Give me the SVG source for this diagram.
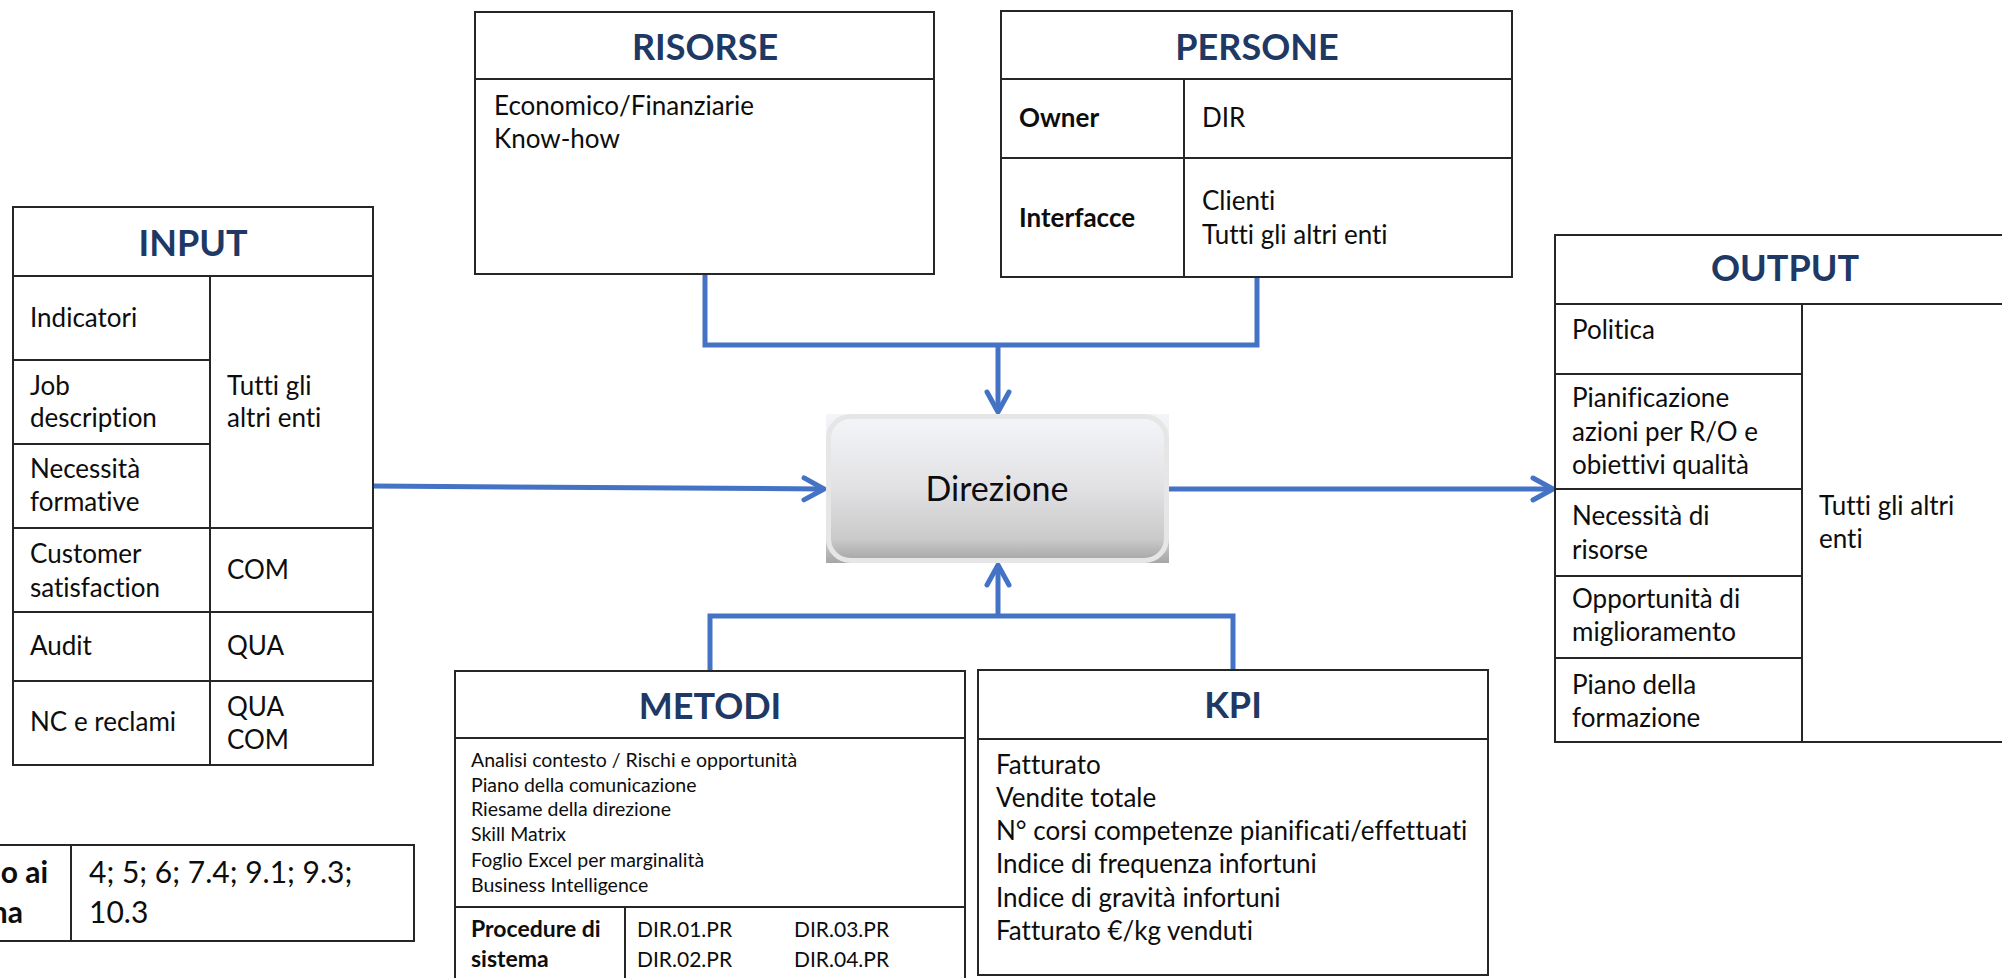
<svg xmlns="http://www.w3.org/2000/svg" width="2002" height="978" viewBox="0 0 2002 978">
<style>
.box{fill:#fff;stroke:#262626;stroke-width:2}
.ln{stroke:#262626;stroke-width:2;fill:none}
.t{font-family:Lato,'Liberation Sans',sans-serif;font-size:26px;fill:#0d0d0d;font-variant-ligatures:none;font-feature-settings:"liga" 0}
.h{font-family:Lato,'Liberation Sans',sans-serif;font-weight:bold;font-size:36px;fill:#203864;text-anchor:middle;font-variant-ligatures:none}
.b{font-weight:bold}
.s{font-size:19.5px}
.m{font-size:23px}
.d{font-size:21px}
.l{font-size:30px}
.c{fill:none;stroke:#4472C4;stroke-width:5;stroke-linejoin:miter}
</style>
<defs>
<marker id="arr" markerUnits="userSpaceOnUse" markerWidth="40" markerHeight="40" viewBox="-30 -20 40 40" refX="0" refY="0" orient="auto" overflow="visible">
<path d="M-20,-11 L0,0 L-20,11" fill="none" stroke="#4472C4" stroke-width="5" stroke-linecap="round" stroke-linejoin="round"/>
</marker>
<linearGradient id="g" x1="0" y1="0" x2="0" y2="1">
<stop offset="0" stop-color="#F4F5F9"/>
<stop offset="0.5" stop-color="#E1E1E3"/>
<stop offset="0.85" stop-color="#CACACA"/>
<stop offset="1" stop-color="#A6A6A6"/>
</linearGradient>
</defs>

<g id="connectors">
<polyline class="c" points="705,274 705,345 1257,345 1257,277"/>
<line class="c" x1="998" y1="345" x2="998" y2="412" marker-end="url(#arr)"/>
<polyline class="c" points="710,671 710,616 1233,616 1233,670"/>
<line class="c" x1="998" y1="616" x2="998" y2="565" marker-end="url(#arr)"/>
<line class="c" x1="373" y1="486" x2="824" y2="489" marker-end="url(#arr)"/>
<line class="c" x1="1169" y1="489" x2="1553" y2="489" marker-end="url(#arr)"/>
</g>

<g id="input">
<rect class="box" x="13" y="207" width="360" height="558"/>
<line class="ln" x1="13" y1="276" x2="373" y2="276"/>
<line class="ln" x1="210" y1="276" x2="210" y2="765"/>
<line class="ln" x1="13" y1="360" x2="210" y2="360"/>
<line class="ln" x1="13" y1="444" x2="210" y2="444"/>
<line class="ln" x1="13" y1="528" x2="373" y2="528"/>
<line class="ln" x1="13" y1="612" x2="373" y2="612"/>
<line class="ln" x1="13" y1="681" x2="373" y2="681"/>
<text class="h" x="193" y="256">INPUT</text>
<text class="t" x="30" y="327">Indicatori</text>
<text class="t" x="30" y="395">Job</text>
<text class="t" x="30" y="427">description</text>
<text class="t" x="30" y="478">Necessità</text>
<text class="t" x="30" y="511">formative</text>
<text class="t" x="30" y="563">Customer</text>
<text class="t" x="30" y="597">satisfaction</text>
<text class="t" x="30" y="655">Audit</text>
<text class="t" x="30" y="731">NC e reclami</text>
<text class="t" x="227" y="395">Tutti gli</text>
<text class="t" x="227" y="427">altri enti</text>
<text class="t" x="227" y="579">COM</text>
<text class="t" x="227" y="655">QUA</text>
<text class="t" x="227" y="716">QUA</text>
<text class="t" x="227" y="749">COM</text>
</g>

<g id="riferimenti">
<rect class="box" x="-20" y="845" width="434" height="96"/>
<line class="ln" x1="71" y1="845" x2="71" y2="941"/>
<text class="t l b" x="48" y="883" text-anchor="end">o ai</text>
<text class="t l b" x="23" y="923" text-anchor="end">na</text>
<text class="t l" x="89" y="883">4; 5; 6; 7.4; 9.1; 9.3;</text>
<text class="t l" x="89" y="923">10.3</text>
</g>

<g id="risorse">
<rect class="box" x="475" y="12" width="459" height="262"/>
<line class="ln" x1="475" y1="79" x2="934" y2="79"/>
<text class="h" x="705" y="60">RISORSE</text>
<text class="t" x="494" y="115">Economico/Finanziarie</text>
<text class="t" x="494" y="148">Know-how</text>
</g>

<g id="persone">
<rect class="box" x="1001" y="11" width="511" height="266"/>
<line class="ln" x1="1001" y1="79" x2="1512" y2="79"/>
<line class="ln" x1="1001" y1="158" x2="1512" y2="158"/>
<line class="ln" x1="1184" y1="79" x2="1184" y2="277"/>
<text class="h" x="1257" y="60">PERSONE</text>
<text class="t b" x="1019" y="127">Owner</text>
<text class="t" x="1202" y="127">DIR</text>
<text class="t b" x="1019" y="227">Interfacce</text>
<text class="t" x="1202" y="210">Clienti</text>
<text class="t" x="1202" y="244">Tutti gli altri enti</text>
</g>

<g id="direzione">
<rect x="826" y="414" width="343" height="149" fill="url(#g)"/>
<rect x="828.5" y="416.5" width="338" height="144" rx="22" ry="22" fill="url(#g)" stroke="#E6E6E6" stroke-width="5"/>
<text class="t" style="font-size:34px" x="997" y="501" text-anchor="middle">Direzione</text>
</g>

<g id="output">
<rect class="box" x="1555" y="235" width="470" height="507"/>
<line class="ln" x1="1555" y1="304" x2="2025" y2="304"/>
<line class="ln" x1="1802" y1="304" x2="1802" y2="742"/>
<line class="ln" x1="1555" y1="374" x2="1802" y2="374"/>
<line class="ln" x1="1555" y1="489" x2="1802" y2="489"/>
<line class="ln" x1="1555" y1="576" x2="1802" y2="576"/>
<line class="ln" x1="1555" y1="658" x2="1802" y2="658"/>
<text class="h" x="1785" y="281">OUTPUT</text>
<text class="t" x="1572" y="339">Politica</text>
<text class="t" x="1572" y="407">Pianificazione</text>
<text class="t" x="1572" y="441">azioni per R/O e</text>
<text class="t" x="1572" y="474">obiettivi qualità</text>
<text class="t" x="1572" y="525">Necessità di</text>
<text class="t" x="1572" y="559">risorse</text>
<text class="t" x="1572" y="608">Opportunità di</text>
<text class="t" x="1572" y="641">miglioramento</text>
<text class="t" x="1572" y="694">Piano della</text>
<text class="t" x="1572" y="727">formazione</text>
<text class="t" x="1819" y="515">Tutti gli altri</text>
<text class="t" x="1819" y="548">enti</text>
</g>

<g id="metodi">
<rect class="box" x="455" y="671" width="510" height="330"/>
<line class="ln" x1="455" y1="738" x2="965" y2="738"/>
<line class="ln" x1="455" y1="907" x2="965" y2="907"/>
<line class="ln" x1="625" y1="907" x2="625" y2="1001"/>
<text class="h" x="710" y="719">METODI</text>
<text class="t s" x="471" y="767">Analisi contesto / Rischi e opportunità</text>
<text class="t s" x="471" y="792">Piano della comunicazione</text>
<text class="t s" x="471" y="816">Riesame della direzione</text>
<text class="t s" x="471" y="841">Skill Matrix</text>
<text class="t s" x="471" y="867">Foglio Excel per marginalità</text>
<text class="t s" x="471" y="892">Business Intelligence</text>
<text class="t m b" x="471" y="937">Procedure di</text>
<text class="t m b" x="471" y="967">sistema</text>
<text class="t d" x="637" y="937">DIR.01.PR</text>
<text class="t d" x="637" y="967">DIR.02.PR</text>
<text class="t d" x="794" y="937">DIR.03.PR</text>
<text class="t d" x="794" y="967">DIR.04.PR</text>
</g>

<g id="kpi">
<rect class="box" x="978" y="670" width="510" height="305"/>
<line class="ln" x1="978" y1="739" x2="1488" y2="739"/>
<text class="h" x="1233" y="718">KPI</text>
<text class="t" x="996" y="774">Fatturato</text>
<text class="t" x="996" y="807">Vendite totale</text>
<text class="t" x="996" y="840">N° corsi competenze pianificati/effettuati</text>
<text class="t" x="996" y="873">Indice di frequenza infortuni</text>
<text class="t" x="996" y="907">Indice di gravità infortuni</text>
<text class="t" x="996" y="940">Fatturato €/kg venduti</text>
</g>
</svg>
